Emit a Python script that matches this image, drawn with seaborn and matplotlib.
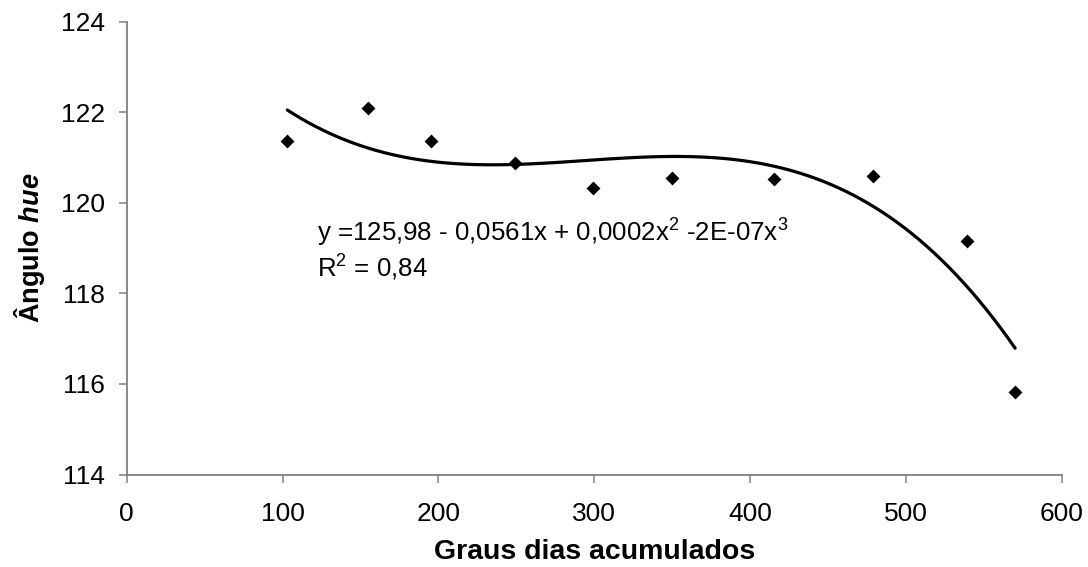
import numpy as np
import pandas as pd
import matplotlib
matplotlib.use("Agg")
import matplotlib.pyplot as plt
import seaborn as sns

# Data
graus_dias = [103, 155, 195, 249, 299, 350, 415, 479, 539, 570]
angulo_hue = [121.36, 122.10, 121.36, 120.88, 120.33, 120.55, 120.52, 120.59, 119.16, 115.82]
x_ticks = [0, 100, 200, 300, 400, 500, 600]
y_ticks = [114, 116, 118, 120, 122, 124]
equation_text = "y =125,98 - 0,0561x + 0,0002x$^2$ -2E-07x$^3$"
r2_text = "R$^2$ = 0,84"

sns.set_theme(style="ticks")
plt.rcParams["font.family"] = ["Liberation Sans", "DejaVu Sans"]
plt.rcParams["text.color"] = "black"
plt.rcParams["axes.labelcolor"] = "black"
plt.rcParams["mathtext.fontset"] = "custom"
plt.rcParams["mathtext.rm"] = "Liberation Sans"
plt.rcParams["mathtext.it"] = "Liberation Sans:italic"
plt.rcParams["mathtext.bf"] = "Liberation Sans:bold"
try:
    plt.rcParams["mathtext.bfit"] = "Liberation Sans:italic:bold"
except KeyError:
    pass

df = pd.DataFrame({"x": graus_dias, "y": angulo_hue})

fig = plt.figure(figsize=(10.88, 5.67), dpi=100)
ax = fig.add_axes([0.1165, 0.1631, 0.976 - 0.1165, 0.9617 - 0.1631])

sns.regplot(data=df, x="x", y="y", order=3, ci=None, truncate=True, ax=ax,
            marker="D",
            scatter_kws={"s": 50, "color": "black", "linewidths": 0, "zorder": 3,
                         "alpha": 1},
            line_kws={"color": "black", "linewidth": 2.3})

ax.set_xlim(0, 600)
ax.set_ylim(114, 124)
ax.set_xticks(x_ticks)
ax.set_yticks(y_ticks)
ax.tick_params(axis="both", labelsize=19, length=5.5, width=1.1, color="#808080",
               labelcolor="black")
ax.tick_params(axis="y", pad=10)
ax.tick_params(axis="x", pad=14)
for s in ["top", "right"]:
    ax.spines[s].set_visible(False)
for s in ["left", "bottom"]:
    ax.spines[s].set_color("#808080")
    ax.spines[s].set_linewidth(1.3)

ax.set_xlabel("Graus dias acumulados", fontsize=20.5, fontweight="bold",
              labelpad=10, color="black")
ax.set_ylabel(r"Ângulo $\mathbfit{hue}$", fontsize=19.5, fontweight="bold",
              labelpad=10, color="black")

ax.text(122, 119.14, equation_text, fontsize=18.6, ha="left", va="baseline")
ax.text(122, 118.36, r2_text, fontsize=18.6, ha="left", va="baseline")

fig.savefig("out.png", dpi=100)
